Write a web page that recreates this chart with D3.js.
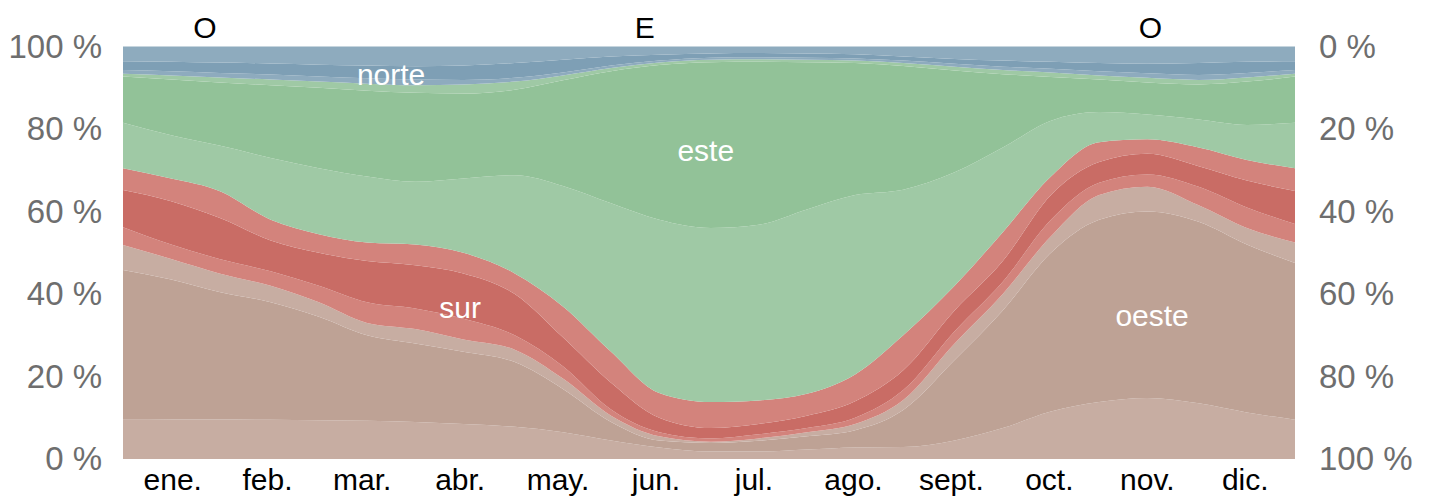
<!DOCTYPE html>
<html>
<head>
<meta charset="utf-8">
<script src="https://cdn.jsdelivr.net/npm/d3@7"></script>
<style>
  body { margin: 0; background: #fff; }
  svg text { font-family: "Liberation Sans", Arial, sans-serif; }
</style>
</head>
<body>
<svg id="chart" width="1434" height="500"></svg>
<script>
// dia del año de cada muestra (cada ~15 dias)
var dias = [0, 15, 30, 46, 61, 76, 91, 106, 122, 137, 152, 167, 183, 198, 213, 228, 243, 259, 274, 289, 304, 319, 335, 350, 365];

// limite superior acumulado (%) de cada franja, de abajo hacia arriba
var oesteBajo = [9.5, 9.6, 9.6, 9.5, 9.4, 9.3, 9.0, 8.5, 7.8, 6.5, 4.5, 2.8, 1.8, 1.8, 2.3, 2.8, 2.9, 4.5, 7.5, 11.5, 13.8, 14.8, 13.5, 11.3, 9.5];
var oeste     = [45.8, 43.5, 40.5, 38.0, 34.5, 30.0, 28.0, 26.0, 23.5, 17.0, 9.0, 4.5, 3.9, 4.4, 5.5, 7.0, 11.9, 24.0, 36.0, 50.0, 58.0, 60.0, 57.5, 52.0, 47.5];
var oesteAlto = [51.9, 48.5, 45.0, 42.0, 38.0, 33.0, 31.5, 29.0, 26.5, 19.5, 10.5, 5.5, 4.2, 5.0, 6.5, 8.5, 14.3, 28.0, 40.0, 54.0, 64.0, 66.0, 61.5, 56.0, 52.5];
var surBajo   = [56.2, 52.0, 48.5, 45.5, 42.0, 38.0, 36.5, 34.0, 30.0, 22.5, 12.0, 6.5, 5.0, 6.0, 7.5, 10.0, 16.7, 31.0, 43.0, 58.0, 67.0, 69.0, 66.0, 61.0, 57.0];
var sur       = [65.2, 62.5, 58.5, 53.0, 50.0, 48.0, 47.0, 45.0, 40.0, 29.5, 18.5, 10.0, 7.5, 8.5, 10.5, 14.0, 21.5, 36.0, 48.0, 64.0, 72.0, 74.0, 71.0, 67.5, 65.0];
var surAlto   = [70.5, 68.0, 65.0, 58.0, 54.5, 52.5, 52.0, 50.0, 45.0, 37.0, 26.0, 16.0, 13.8, 14.2, 15.8, 20.5, 30.0, 42.0, 55.0, 68.5, 76.8, 77.5, 75.5, 72.5, 70.5];
var esteBajo  = [81.5, 78.5, 76.0, 73.0, 70.5, 68.5, 67.2, 68.0, 68.8, 66.2, 62.0, 58.0, 56.0, 56.8, 60.5, 64.0, 65.3, 69.5, 75.5, 82.0, 84.1, 83.5, 82.3, 81.0, 81.5];
var este      = [92.7, 92.0, 91.3, 90.6, 90.0, 89.3, 88.8, 88.6, 89.5, 91.8, 94.0, 95.5, 96.2, 96.3, 96.2, 96.0, 95.3, 94.2, 93.3, 92.6, 92.0, 91.3, 90.8, 91.5, 92.7];
var esteAlto  = [93.4, 93.0, 92.5, 92.0, 91.5, 91.0, 90.6, 90.8, 91.5, 93.0, 94.8, 96.1, 96.8, 96.9, 96.8, 96.6, 96.0, 95.1, 94.3, 93.7, 93.0, 92.4, 91.9, 92.5, 93.4];
var norteBajo = [94.3, 94.0, 93.6, 93.2, 92.7, 92.3, 92.0, 91.9, 92.4, 93.7, 95.4, 96.6, 97.3, 97.4, 97.3, 97.1, 96.6, 95.8, 95.1, 94.6, 94.0, 93.5, 93.1, 93.6, 94.3];
var norte     = [96.4, 96.3, 96.1, 95.9, 95.6, 95.4, 95.2, 95.4, 96.0, 96.8, 97.6, 98.0, 98.3, 98.4, 98.3, 98.1, 97.6, 97.0, 96.6, 96.3, 96.0, 95.8, 96.0, 96.3, 96.4];
var norteAlto = [100, 100, 100, 100, 100, 100, 100, 100, 100, 100, 100, 100, 100, 100, 100, 100, 100, 100, 100, 100, 100, 100, 100, 100, 100];

var meses = ["ene.", "feb.", "mar.", "abr.", "may.", "jun.", "jul.", "ago.", "sept.", "oct.", "nov.", "dic."];
var mesesCentro = [15.5, 45, 74.5, 105, 135.5, 166, 196.5, 227.5, 258, 288.5, 319, 349.5];

var ticksIzq = [0, 20, 40, 60, 80, 100];

var rumbos = ["O", "E", "O"];
var rumbosDia = [25.5, 162.5, 320];

var etiquetas = ["norte", "este", "sur", "oeste"];
var etiquetasPos = [[83.5, 93.1], [181.5, 74.9], [105, 36.8], [320.5, 34.9]];

var franjas = [
    { lo: null,      hi: oesteBajo, color: "#c7ada2" },
    { lo: oesteBajo, hi: oeste,     color: "#bea295" },
    { lo: oeste,     hi: oesteAlto, color: "#c7ada2" },
    { lo: oesteAlto, hi: surBajo,   color: "#d3837c" },
    { lo: surBajo,   hi: sur,       color: "#c96c65" },
    { lo: sur,       hi: surAlto,   color: "#d3837c" },
    { lo: surAlto,   hi: esteBajo,  color: "#9fc9a5" },
    { lo: esteBajo,  hi: este,      color: "#92c298" },
    { lo: este,      hi: esteAlto,  color: "#9fc9a5" },
    { lo: esteAlto,  hi: norteBajo, color: "#8eabbe" },
    { lo: norteBajo, hi: norte,     color: "#7e9fb5" },
    { lo: norte,     hi: norteAlto, color: "#8eabbe" }
];

var svg = d3.select('#chart');

var x = d3.scaleLinear().domain([0, 365]).range([123, 1295]);
var y = d3.scaleLinear().domain([0, 100]).range([459, 46.5]);

var area = d3.area()
    .x(function(d, i) { return x(dias[i]); })
    .y0(function(d) { return y(d[0]); })
    .y1(function(d) { return y(d[1]); })
    .curve(d3.curveMonotoneX);

var g = svg.append('g').attr('class', 'franjas');

franjas.forEach(function(fr) {
    var pts = dias.map(function(d, i) {
        return [fr.lo ? fr.lo[i] : 0, fr.hi[i]];
    });
    g.append('path')
        .datum(pts)
        .attr('d', area)
        .style('fill', fr.color);
});

// eje izquierdo
var ejeIzq = svg.append('g')
    .attr('transform', 'translate(102,0)')
    .call(d3.axisLeft(y).tickValues(ticksIzq).tickSize(0).tickPadding(0)
        .tickFormat(function(d) { return d + ' %'; }));
ejeIzq.select('.domain').remove();
ejeIzq.selectAll('text')
    .attr('font-size', 33)
    .attr('font-family', '"Liberation Sans", Arial, sans-serif')
    .style('fill', '#6e6e6e');

// eje derecho (invertido)
var yDer = d3.scaleLinear().domain([0, 100]).range([46.5, 459]);
var ejeDer = svg.append('g')
    .attr('transform', 'translate(1319,0)')
    .call(d3.axisRight(yDer).tickValues(ticksIzq).tickSize(0).tickPadding(0)
        .tickFormat(function(d) { return d + ' %'; }));
ejeDer.select('.domain').remove();
ejeDer.selectAll('text')
    .attr('font-size', 33)
    .attr('font-family', '"Liberation Sans", Arial, sans-serif')
    .style('fill', '#6e6e6e');

// meses
svg.append('g').selectAll('text')
    .data(meses)
    .enter().append('text')
    .attr('x', function(d, i) { return x(mesesCentro[i]); })
    .attr('y', 490)
    .attr('text-anchor', 'middle')
    .attr('font-size', 30)
    .style('fill', '#000')
    .text(function(d) { return d; });

// rumbos dominantes arriba
svg.append('g').selectAll('text')
    .data(rumbos)
    .enter().append('text')
    .attr('x', function(d, i) { return x(rumbosDia[i]); })
    .attr('y', 38)
    .attr('text-anchor', 'middle')
    .attr('font-size', 30)
    .style('fill', '#000')
    .text(function(d) { return d; });

// nombres de las franjas
svg.append('g').selectAll('text')
    .data(etiquetas)
    .enter().append('text')
    .attr('x', function(d, i) { return x(etiquetasPos[i][0]); })
    .attr('y', function(d, i) { return y(etiquetasPos[i][1]); })
    .attr('dy', '0.35em')
    .attr('text-anchor', 'middle')
    .attr('font-size', 30)
    .style('fill', '#fff')
    .text(function(d) { return d; });
</script>
</body>
</html>
